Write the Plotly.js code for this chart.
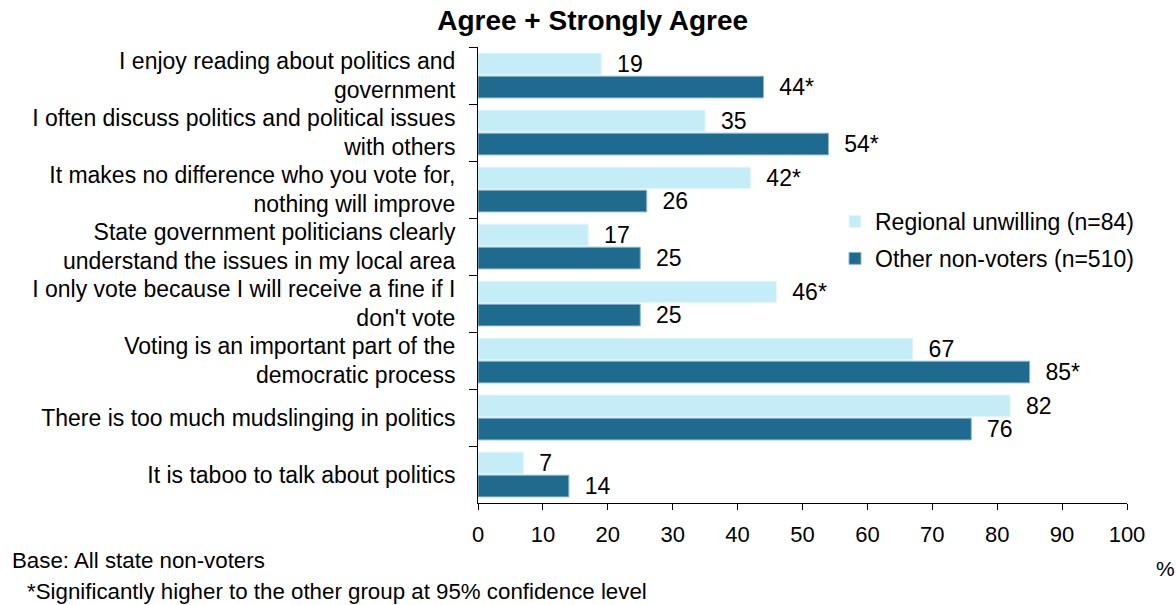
<!DOCTYPE html>
<html><head><meta charset="utf-8">
<script src="https://cdn.plot.ly/plotly-3.0.1.min.js"></script>
<style>body{margin:0;background:#fff}#chart{width:1176px;height:605px}</style>
</head><body><div id="chart"></div>
<script>
const categories = [
  "I enjoy reading about politics and<br>government",
  "I often discuss politics and political issues<br>with others",
  "It makes no difference who you vote for,<br>nothing will improve",
  "State government politicians clearly<br>understand the issues in my local area",
  "I only vote because I will receive a fine if I<br>don't vote",
  "Voting is an important part of the<br>democratic process",
  "There is too much mudslinging in politics",
  "It is taboo to talk about politics"
];
const regionalUnwilling = [19, 35, 42, 17, 46, 67, 82, 7];
const regionalSig = [false, false, true, false, true, false, false, false];
const otherNonVoters = [44, 54, 26, 25, 25, 85, 76, 14];
const otherSig = [true, true, false, false, false, true, false, false];
const xTicks = [0,10,20,30,40,50,60,70,80,90,100];

const lbl = (v, s) => '\u00a0\u00a0' + v + (s ? '*' : '');
const font = "Liberation Sans, Arial, sans-serif";
const L = 478, R = 1127, T = 47, B = 503;
const PW = R - L, PH = B - T;
const traces = [
  {type:'bar', orientation:'h', name:'Regional unwilling (n=84)', y:categories, x:regionalUnwilling,
   text: regionalUnwilling.map((v,i)=>lbl(v,regionalSig[i])), textposition:'outside', cliponaxis:false,
   constraintext:'none', textfont:{size:23},
   marker:{color:'#c5edf7', line:{color:'#e6f7fb', width:1}}, legendgroup:'a', hoverinfo:'x'},
  {type:'bar', orientation:'h', name:'Other non-voters (n=510)', y:categories, x:otherNonVoters,
   text: otherNonVoters.map((v,i)=>lbl(v,otherSig[i])), textposition:'outside', cliponaxis:false,
   constraintext:'none', textfont:{size:23},
   marker:{color:'#1f6a8f', line:{color:'#8fb7cc', width:1}}, legendgroup:'b', hoverinfo:'x'}
];
const layout = {
  width:1176, height:605,
  margin:{l:L, r:1176-R, t:T, b:605-B},
  paper_bgcolor:'#fff', plot_bgcolor:'#fff',
  font:{family:font, size:23, color:'#000'},
  title:{text:'<b>Agree + Strongly Agree</b>', font:{size:28, family:font, color:'#000'}, x:0.504, xanchor:'center', y:0.967, yanchor:'middle'},
  barmode:'group', bargap:0.19, bargroupgap:0.06,
  xaxis:{range:[0,100], tickvals:xTicks, ticktext:xTicks.map(String), showgrid:false, zeroline:false,
    showline:true, linecolor:'#000', linewidth:1, ticks:'outside', ticklen:6, tickcolor:'#000',
    tickfont:{size:22}, ticklabelstandoff:6, fixedrange:true},
  yaxis:{type:'category', autorange:'reversed', showgrid:false, zeroline:false, showline:true, linecolor:'#000', linewidth:1,
    ticks:'outside', ticklen:8, tickcolor:'#000', tickson:'boundaries', tickfont:{size:23}, ticklabelstandoff:17},
  showlegend:true,
  legend:{x:(835-L)/PW, y:(B-240)/PH, xanchor:'left', yanchor:'middle', font:{size:23}, traceorder:'grouped', tracegroupgap:4, bgcolor:'rgba(0,0,0,0)'},
  annotations:[
    {text:'Base: All state non-voters', xref:'paper', yref:'paper', x:(10-L)/PW, y:(B-560)/PH, xanchor:'left', yanchor:'middle', showarrow:false, font:{family:font, size:22.3}},
    {text:'*Significantly higher to the other group at 95% confidence level', xref:'paper', yref:'paper', x:(25-L)/PW, y:(B-591)/PH, xanchor:'left', yanchor:'middle', showarrow:false, font:{family:font, size:22.3}},
    {text:'%', xref:'paper', yref:'paper', x:(1165-L)/PW, y:(B-568)/PH, xanchor:'center', yanchor:'middle', showarrow:false, font:{family:font, size:21}}
  ]
};
Plotly.newPlot('chart', traces, layout, {displayModeBar:false, staticPlot:true});
</script></body></html>
